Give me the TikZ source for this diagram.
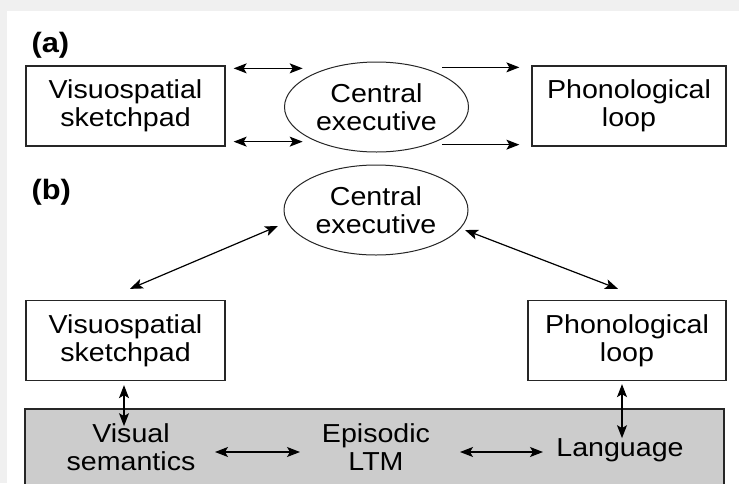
\documentclass[tikz,border=0pt]{standalone}
\usepackage{fontspec}
\setmainfont{Liberation Sans}[FakeStretch=1.1]
\usetikzlibrary{shapes.geometric,arrows.meta,positioning}
\tikzset{block/.style = {draw=black!85, rectangle, line width=1.3pt, minimum height=80pt, minimum width=199pt, inner sep=0pt, align=center},
         exec/.style = {draw=black!85, ellipse, line width=1pt, minimum height=90pt, minimum width=184pt, inner sep=0pt, align=center},
         tag/.style = {anchor=west, font=\fontsize{28}{30}\selectfont\bfseries},
         ltm/.style = {draw=black!85, fill=black!20, line width=1.3pt},
         txt/.style = {align=center},
         link/.style = {line width=1.2pt},
}

\begin{document}
\begin{tikzpicture}[x=1pt, y=-1pt, font=\fontsize{26}{28}\selectfont,
  >={Stealth[length=13pt,width=10pt,inset=3pt]}]

  \useasboundingbox (0,0) rectangle (739,483);
  \clip (0,0) rectangle (739,483);
  \fill[black!6] (0,0) rectangle (739,483);
  \fill[white] (7,11) rectangle (739,483);

  % (a)
  \node[tag] (taga) at (28,45) {(a)};
  \node[block] (vsa) at (125.5,106) {Visuospatial\\sketchpad};
  \node[exec] (cea) at (376.5,107) {Central\\executive};
  \node[block, minimum width=194pt] (pla) at (629,106) {Phonological\\loop};

  \draw[link, <->] ([shift={(8,3)}]vsa.north east) -- ([shift={(77,3)}]vsa.north east);
  \draw[link, <->] ([shift={(8,-5)}]vsa.south east) -- ([shift={(77,-5)}]vsa.south east);
  \draw[link, ->] ([shift={(-89,2)}]pla.north west) -- ([shift={(-12,2)}]pla.north west);
  \draw[link, ->] ([shift={(-89,-2)}]pla.south west) -- ([shift={(-12,-2)}]pla.south west);

  % (b)
  \node[tag] (tagb) at (28,192) {(b)};
  \node[exec] (ceb) at (376,210) {Central\\executive};
  \node[block] (vsb) at (125.5,340.5) {Visuospatial\\sketchpad};
  \node[block, minimum width=198pt] (plb) at (627,340.5) {Phonological\\loop};

  \draw[ltm] (25,409) rectangle (724,495);
  \node[txt] (vis) at (131,447) {Visual\\semantics};
  \node[txt] (epi) at (376,447) {Episodic\\LTM};
  \node[txt] (lang) at (620,450.5) {Language};

  \draw[link, <->] ([shift={(4.5,-11)}]vsb.north) -- ([shift={(-98,16)}]ceb.center);
  \draw[link, <->] ([shift={(89,20)}]ceb.center) -- ([shift={(-9,-11)}]plb.north);
  \draw[link, <->] ([shift={(-1.5,4)}]vsb.south) -- ([shift={(-1.5,45)}]vsb.south);
  \draw[link, <->] ([shift={(-5,3)}]plb.south) -- ([shift={(-5,57)}]plb.south);
  \draw[link, <->] ([shift={(84,5)}]vis.center) -- ([shift={(-76,5)}]epi.center);
  \draw[link, <->] ([shift={(84,5)}]epi.center) -- ([shift={(-77,1.5)}]lang.center);

\end{tikzpicture}
\end{document}
